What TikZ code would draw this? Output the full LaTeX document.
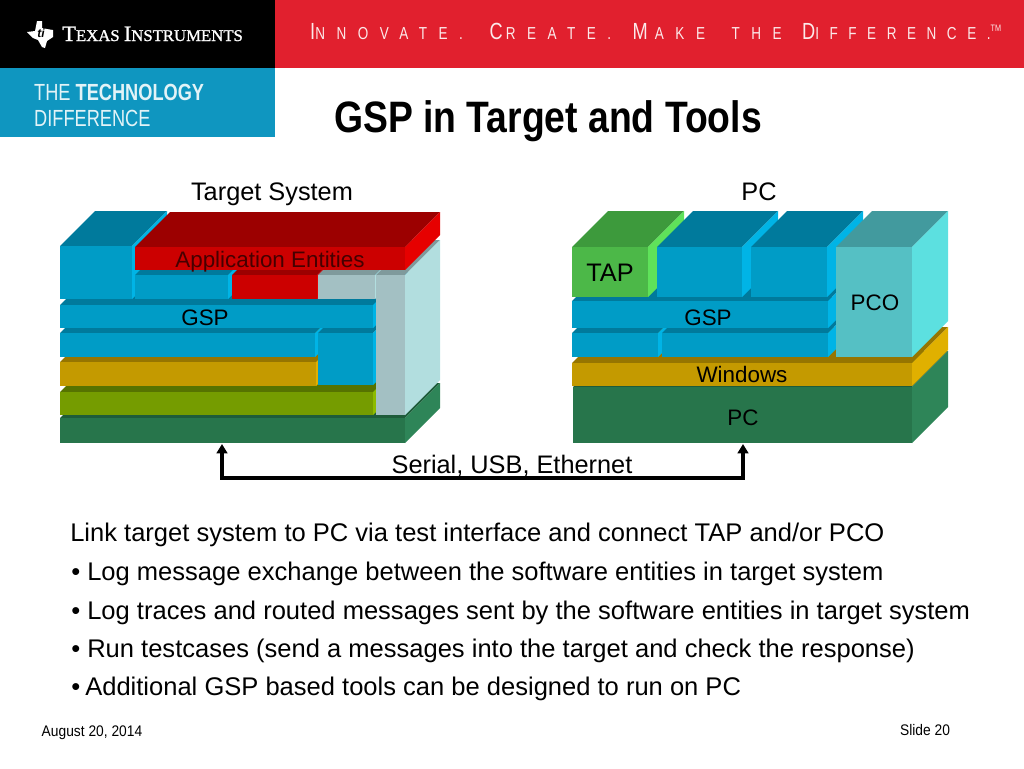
\documentclass[tikz,border=0pt]{standalone}
\usepackage{fontspec}
\usepackage{xcolor}
\setmainfont{Liberation Sans}
\newfontfamily\serifname[FakeBold=1.2]{Liberation Serif}
\newfontfamily\tagfont[LetterSpace=85]{Liberation Sans}
\usetikzlibrary{arrows.meta, positioning}
\definecolor{tired}{HTML}{E1202E}
\definecolor{tiblue}{HTML}{0F96C0}
\definecolor{bluef}{HTML}{009CC6}
\definecolor{bluet}{HTML}{007A9C}
\definecolor{blues}{HTML}{00B4E6}
\definecolor{redf}{HTML}{CC0000}
\definecolor{redt}{HTML}{9C0000}
\definecolor{reds}{HTML}{E60000}
\definecolor{greyf}{HTML}{A3C0C3}
\definecolor{greyt}{HTML}{7F9A9C}
\definecolor{greys}{HTML}{B2DEDF}
\definecolor{goldf}{HTML}{C49A00}
\definecolor{goldt}{HTML}{967500}
\definecolor{golds}{HTML}{E0B000}
\definecolor{olivef}{HTML}{759C00}
\definecolor{olivet}{HTML}{567300}
\definecolor{olives}{HTML}{8DBB00}
\definecolor{pinef}{HTML}{27754B}
\definecolor{pinet}{HTML}{1E5C3A}
\definecolor{pines}{HTML}{2E8558}
\definecolor{tapf}{HTML}{4CB848}
\definecolor{tapt}{HTML}{3D9A3C}
\definecolor{taps}{HTML}{5FE25A}
\definecolor{pcof}{HTML}{55C0C4}
\definecolor{pcot}{HTML}{429A9E}
\definecolor{pcos}{HTML}{5CE0E0}
\tikzset{
  every picture/.style={>=Stealth},
  caption/.style={inner sep=0pt, anchor=base, font=\fontsize{19}{22}\selectfont},
  blocklabel/.style={inner sep=0pt, anchor=base, font=\fontsize{16.8}{20}\selectfont},
  bodyline/.style={inner sep=0pt, anchor=base west, font=\fontsize{19.15}{22}\selectfont},
  footer/.style={inner sep=0pt, anchor=base, xscale=0.9, font=\fontsize{11.5}{14}\selectfont},
  link/.style={{Triangle[length=7pt, width=8pt]}-{Triangle[length=7pt, width=8pt]}, line width=2.3pt},
}
% x1, y1, x2, y2 of the front face, colour family, depth
\newcommand{\stacklayer}[6]{
  \fill[#5t] (#1,#2) -- (#1+#6,#2-#6) -- (#3+#6,#2-#6) -- (#3,#2) -- cycle;
  \fill[#5s] (#3,#2) -- (#3+#6,#2-#6) -- (#3+#6,#4-#6) -- (#3,#4) -- cycle;
  \fill[#5f] (#1,#2) rectangle (#3,#4);
}
% big first letter of a word in the tagline, kern after it
\newcommand{\tagcap}[2]{{\fontsize{17.5}{14}\selectfont #1}\kern#2pt}
\begin{document}
\begin{tikzpicture}[x=0.75pt, y=-0.75pt]
  \useasboundingbox (0,0) rectangle (1024,768);
  % banner
  \fill[black] (0,0) rectangle (275,68);
  \fill[tired] (275,0) rectangle (1024,68);
  \fill[tiblue] (0,68) rectangle (275,137);
  \fill[white] (37,21) -- (42,21) -- (42,28) -- (47,29) -- (53,30) -- (53,37) -- (47,41) -- (45,48) -- (42,47) -- (38,40) -- (33,38) -- (27,32) -- (35,31) -- cycle;
  \node[inner sep=0pt, text=black, font=\fontsize{9}{9}\itshape\bfseries] (tilogo) at (41,33) {ti};
  \node[inner sep=0pt, anchor=base west, text=white, xscale=1.02, font=\serifname\fontsize{12.3}{14}\selectfont] (tiname) at (62,41)
    {{\fontsize{16.5}{14}\selectfont T}EXAS {\fontsize{16.5}{14}\selectfont I}NSTRUMENTS};
  \node[inner sep=0pt, anchor=base west, text=white!90!tired, xscale=0.78, font=\tagfont\fontsize{13}{14}\selectfont] (tagline) at (310,39)
    {\tagcap{I}{0}NNOVATE.\kern11pt{} \tagcap{C}{3}REATE.\kern6pt{} \tagcap{M}{7}AKE\kern11pt{} THE\kern5pt{} \addfontfeature{LetterSpace=78}\tagcap{D}{0}IFFERENCE.\raisebox{6pt}{\fontsize{7}{8}\selectfont\addfontfeature{LetterSpace=0}TM}};
  \node[inner sep=0pt, anchor=north west, text=white!88!tiblue, align=left, xscale=0.78, font=\fontsize{17.5}{19.5}\selectfont] (tidiff) at (34,84)
    {THE \textbf{TECHNOLOGY}\\DIFFERENCE};
  \node[inner sep=0pt, xscale=0.848, font=\fontsize{33}{38}\selectfont\bfseries] (title) at (548,121) {GSP in Target and Tools};
  % target system stack
  \stacklayer{60}{418}{405}{443}{pine}{35}
  \stacklayer{60}{392}{373}{415}{olive}{35}
  \stacklayer{60}{362}{316}{386}{gold}{35}
  \stacklayer{60}{333}{315}{357}{blue}{35}
  \stacklayer{318}{333}{373}{385}{blue}{35}
  \stacklayer{60}{305}{373}{328}{blue}{35}
  \stacklayer{60}{246}{132}{299}{blue}{35}
  \stacklayer{135}{275}{228}{299}{blue}{35}
  \stacklayer{232}{275}{317}{299}{red}{35}
  \stacklayer{318}{275}{375}{299}{grey}{35}
  \stacklayer{376}{275}{405}{415}{grey}{35}
  \stacklayer{135}{247}{405}{270}{red}{35}
  % pc stack
  \stacklayer{573}{387}{912}{443}{pine}{36}
  \stacklayer{572}{363}{912}{386}{gold}{36}
  \stacklayer{572}{333}{658}{357}{blue}{36}
  \stacklayer{662}{333}{828}{357}{blue}{36}
  \stacklayer{572}{301}{828}{328}{blue}{36}
  \stacklayer{572}{247}{648}{297}{tap}{36}
  \stacklayer{657}{247}{742}{297}{blue}{36}
  \stacklayer{751}{247}{827}{297}{blue}{36}
  \stacklayer{836}{247}{912}{357}{pco}{36}
  % labels
  \node[caption] (targetcap) at (272,200) {Target System};
  \node[caption] (pccap) at (759,200) {PC};
  \node[blocklabel, text=redt!45!black] (appent) at (270,267) {Application Entities};
  \node[blocklabel] (gspleft) at (205,325) {GSP};
  \node[caption] (tap) at (610,281) {TAP};
  \node[blocklabel] (gspright) at (708,325) {GSP};
  \node[blocklabel] (pco) at (875,310) {PCO};
  \node[blocklabel] (windows) at (742,382) {Windows};
  \node[blocklabel] (pcbase) at (743,425) {PC};
  % link
  \coordinate (targetport) at (222,444);
  \coordinate (pcport) at (743,444);
  \draw[link] (targetport) -- (targetport |- 0,478) -- (pcport |- 0,478) -- (pcport);
  \node[caption] (linkname) at (512,473) {Serial, USB, Ethernet};
  % text
  \node[bodyline] (line1) at (70,541) {Link target system to PC via test interface and connect TAP and/or PCO};
  \node[bodyline] (line2) at (71,580) {• Log message exchange between the software entities in target system};
  \node[bodyline] (line3) at (71,619) {• Log traces and routed messages sent by the software entities in target system};
  \node[bodyline] (line4) at (71,657) {• Run testcases (send a messages into the target and check the response)};
  \node[bodyline] (line5) at (71,695) {•\hspace{-1.5pt} Additional GSP based tools can be designed to run on PC};
  \node[footer] (datenote) at (92,736) {August 20, 2014};
  \node[footer] (slidenote) at (925,735) {Slide 20};
\end{tikzpicture}
\end{document}
